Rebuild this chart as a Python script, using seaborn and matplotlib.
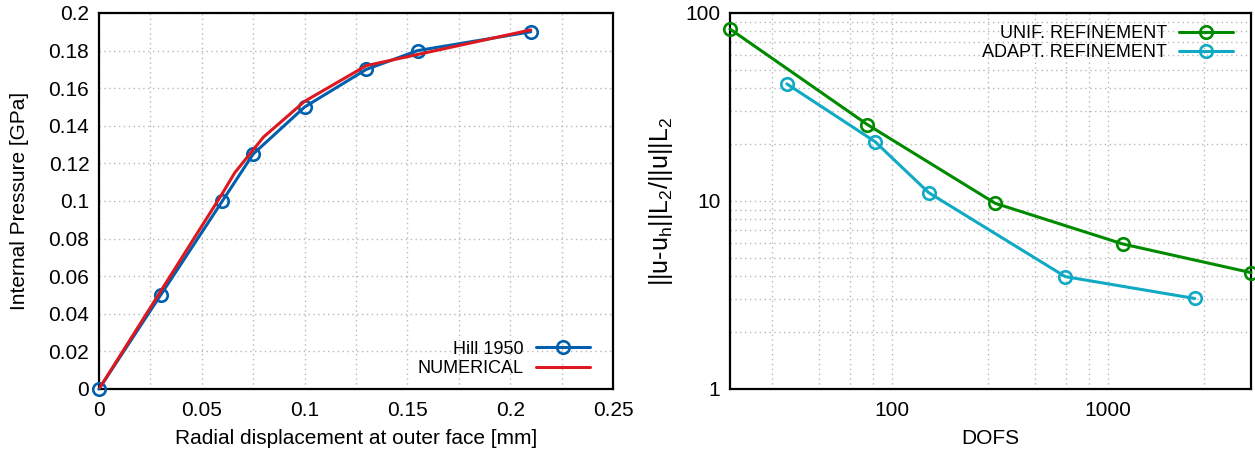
import numpy as np
import pandas as pd
import matplotlib
matplotlib.use("Agg")
import matplotlib.pyplot as plt
from matplotlib.ticker import FixedLocator, FixedFormatter, NullFormatter
import seaborn as sns

# ---- data: left panel ----
hill_x = [0.0, 0.03, 0.06, 0.075, 0.10, 0.13, 0.155, 0.21]
hill_y = [0.0, 0.05, 0.10, 0.125, 0.15, 0.17, 0.18, 0.19]
num_x = [0.0, 0.03, 0.06, 0.066, 0.08, 0.10, 0.13, 0.21]
num_y = [0.0, 0.052, 0.104, 0.115, 0.134, 0.153, 0.172, 0.191]

left_xticks = [0, 0.05, 0.10, 0.15, 0.20, 0.25]
left_xticklabels = ["0", "0.05", "0.1", "0.15", "0.2", "0.25"]
left_xminor = [0.025, 0.075, 0.125, 0.175, 0.225]
left_yticks = [0, 0.02, 0.04, 0.06, 0.08, 0.10, 0.12, 0.14, 0.16, 0.18, 0.20]
left_yticklabels = ["0", "0.02", "0.04", "0.06", "0.08", "0.1", "0.12", "0.14", "0.16", "0.18", "0.2"]

# ---- data: right panel ----
unif_dofs = [17.8, 77, 301, 1177, 4600]
unif_err = [82.2, 25.5, 9.72, 5.90, 4.16]
adapt_dofs = [32.6, 83.5, 148, 635, 2527]
adapt_err = [42.0, 20.7, 11.08, 3.96, 3.03]

right_xticks = [100, 1000]
right_xticklabels = ["100", "1000"]
right_xminor = [28, 46, 64, 82, 280, 460, 640, 820, 2800, 4600]
right_yticks = [1, 10, 100]
right_yticklabels = ["1", "10", "100"]
right_yminor = [2, 3, 4, 5, 6, 7, 8, 9, 20, 30, 40, 50, 60, 70, 80, 90]

sns.set_style("white")
plt.rcParams["font.family"] = ["Liberation Sans", "DejaVu Sans"]
plt.rcParams["mathtext.default"] = "regular"
plt.rcParams["mathtext.fontset"] = "custom"
plt.rcParams["mathtext.rm"] = "Liberation Sans"
for k in ("text.color", "axes.labelcolor", "xtick.color", "ytick.color"):
    plt.rcParams[k] = "black"

BLUE = "#0060ad"
RED = "#dd181f"
GREEN = "#008a00"
CYAN = "#10aac4"
GRID = dict(color="#b8b8b8", linestyle=(0, (1, 2.5)), linewidth=1.0)

fig = plt.figure(figsize=(12.55, 4.53), dpi=100)
ax1 = fig.add_axes([99 / 1255, 1 - 389 / 453, 514 / 1255, 376 / 453])
ax2 = fig.add_axes([730 / 1255, 1 - 389 / 453, 521 / 1255, 376 / 453])

lw = 2.2
ms = 9
mew = 1.9
FS = 15
LFS = 13

# left panel
sns.lineplot(x=hill_x, y=hill_y, ax=ax1, color=BLUE, lw=lw, marker="o", ms=ms,
             mfc="none", mec=BLUE, mew=mew, label="Hill 1950", zorder=3, clip_on=False)
sns.lineplot(x=num_x, y=num_y, ax=ax1, color=RED, lw=lw, label="NUMERICAL", zorder=4)
ax1.set_xlim(0, 0.25)
ax1.set_ylim(0, 0.2)
ax1.xaxis.set_major_locator(FixedLocator(left_xticks))
ax1.xaxis.set_major_formatter(FixedFormatter(left_xticklabels))
ax1.xaxis.set_minor_locator(FixedLocator(left_xminor))
ax1.yaxis.set_major_locator(FixedLocator(left_yticks))
ax1.yaxis.set_major_formatter(FixedFormatter(left_yticklabels))
ax1.grid(True, which="both", axis="x", **GRID)
ax1.grid(True, which="major", axis="y", **GRID)
ax1.set_xlabel("Radial displacement at outer face [mm]", fontsize=FS, labelpad=6)
ax1.set_ylabel("Internal Pressure [GPa]", fontsize=FS, labelpad=14)
leg1 = ax1.legend(loc="lower right", bbox_to_anchor=(0.969, 0.013), borderaxespad=0,
                  frameon=False, markerfirst=False, fontsize=LFS,
                  handlelength=3.0, handletextpad=0.65, labelspacing=0.12)

# right panel
sns.lineplot(x=unif_dofs, y=unif_err, ax=ax2, color=GREEN, lw=lw, marker="o", ms=ms,
             mfc="none", mec=GREEN, mew=mew, label="UNIF. REFINEMENT", zorder=3, clip_on=False)
sns.lineplot(x=adapt_dofs, y=adapt_err, ax=ax2, color=CYAN, lw=lw, marker="o", ms=ms,
             mfc="none", mec=CYAN, mew=mew, label="ADAPT. REFINEMENT", zorder=3)
ax2.set_xscale("log")
ax2.set_yscale("log")
ax2.set_xlim(17.8, 4600)
ax2.set_ylim(1, 100)
ax2.xaxis.set_major_locator(FixedLocator(right_xticks))
ax2.xaxis.set_major_formatter(FixedFormatter(right_xticklabels))
ax2.xaxis.set_minor_locator(FixedLocator(right_xminor))
ax2.xaxis.set_minor_formatter(NullFormatter())
ax2.yaxis.set_major_locator(FixedLocator(right_yticks))
ax2.yaxis.set_major_formatter(FixedFormatter(right_yticklabels))
ax2.yaxis.set_minor_locator(FixedLocator(right_yminor))
ax2.yaxis.set_minor_formatter(NullFormatter())
ax2.grid(True, which="both", axis="both", **GRID)
ax2.set_xlabel("DOFS", fontsize=FS, labelpad=6)
ax2.set_ylabel(r"||u-u$_h$||L$_2$/||u||L$_2$", fontsize=18, labelpad=7)
leg2 = ax2.legend(loc="upper right", bbox_to_anchor=(0.979, 0.987), borderaxespad=0,
                  frameon=False, markerfirst=False, fontsize=LFS,
                  handlelength=3.0, handletextpad=0.65, labelspacing=0.12)

for leg in (leg1, leg2):
    for t in leg.get_texts():
        t.set_color("black")

for ax in (ax1, ax2):
    ax.set_axisbelow(True)
    for s in ax.spines.values():
        s.set_linewidth(1.6)
        s.set_color("black")
    ax.tick_params(which="major", direction="in", length=7, width=1.0, labelsize=FS,
                   top=False, right=False, colors="black")
    ax.tick_params(which="minor", direction="in", length=4, width=1.0,
                   top=False, right=False)
    ax.tick_params(axis="x", which="major", pad=9)
    ax.tick_params(axis="y", which="major", pad=7)

fig.savefig("out.png", dpi=100)
